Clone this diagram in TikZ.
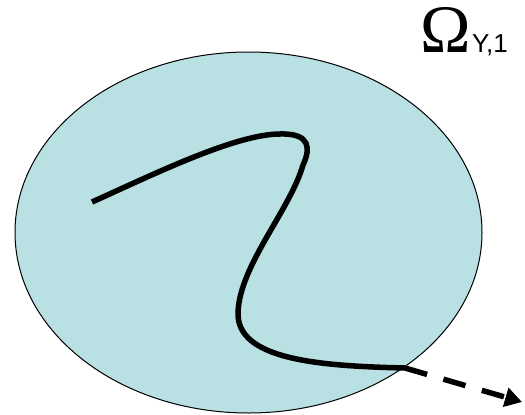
\documentclass[tikz,border=0pt]{standalone}
\usepackage{fontspec}
\setmainfont{Liberation Serif}
\newfontfamily\arialf{Liberation Sans}
\usetikzlibrary{arrows.meta,shapes.geometric}
\definecolor{regionfill}{HTML}{B9E0E3}
\tikzset{
  region/.style={ellipse, draw=black, line width=1pt, fill=regionfill, minimum width=467pt, minimum height=361pt, inner sep=0pt},
  pathline/.style={line width=5.5pt, line cap=butt},
  escape/.style={line width=5.5pt, dash pattern=on 23pt off 17pt, -{Triangle[length=17pt,width=19pt]}},
  biglbl/.style={anchor=base west, inner sep=0pt, font=\fontsize{68pt}{70pt}\selectfont},
  sublbl/.style={anchor=base west, inner sep=0pt, font=\arialf\fontsize{26pt}{28pt}\selectfont}
}
\begin{document}
\begin{tikzpicture}[x=1pt,y=-1pt]
\useasboundingbox (0,0) rectangle (525,415);
\node[region] (omega) at (248.5,232.5) {};
\node[biglbl] (lbl) at (420,52) {Ω};
\node[sublbl] (sub) at ([xshift=1pt]lbl.base east) {Y,1};
\coordinate (s) at (92,202);
\coordinate (t) at (280,134);
\coordinate (u) at (303,165);
\coordinate (v) at (238,312);
\coordinate (e) at (405,368);
\coordinate (f) at (522,402);
\draw[pathline] (s) .. controls (150,176) and (235,134) .. (t)
  .. controls (312,133) and (310,150) .. (u)
  .. controls (290,210) and (240,265) .. (v)
  .. controls (236,360) and (320,366) .. (e);
\draw[escape] (e) -- (f);
\end{tikzpicture}
\end{document}
